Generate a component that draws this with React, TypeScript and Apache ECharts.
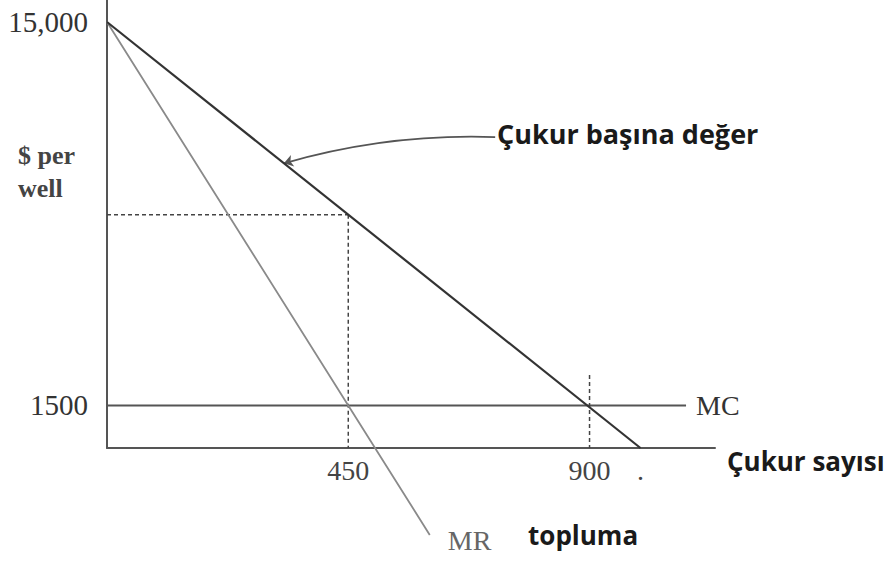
import React, { useEffect, useRef } from "react";
import * as echarts from "echarts";

// Axis ticks
const yTickValues = [1500, 15000];
const yTickLabels = ["1500", "15,000"];
const xTickValues = [450, 900, 995];
const xTickLabels = ["450", "900", "."];

// Demand curve ("Çukur başına değer")
const demandQ = [0, 995];
const demandP = [15000, 0];

// Marginal revenue (MR, topluma)
const mrQ = [0, 450, 602];
const mrP = [15000, 1500, -3060];

// Marginal cost (MC)
const mcQ = [0, 1080];
const mcP = [1500, 1500];

// Reference points
const optQ = 450;
const optP = 8216;
const compQ = 900;
const compTop = 2570;

// Annotation arrow (from label to demand line)
const arrowFrom = [724, 10950];
const arrowTo = [330, 10025];

const serif = "'Liberation Serif', 'DejaVu Serif', serif";
const sans = "'Open Sans', 'Noto Sans', sans-serif";

export default function App() {
  const ref = useRef<HTMLDivElement>(null);
  useEffect(() => {
    if (!ref.current) return;
    const chart = echarts.init(ref.current, undefined, { renderer: "svg" });
    const dash = { color: "#444", width: 1.5, type: [4, 3] as any };
    chart.setOption({
      animation: false,
      backgroundColor: "#ffffff",
      grid: { left: 107, top: 0, width: 608, height: 448 },
      xAxis: {
        type: "value",
        min: 0,
        max: 1134,
        axisLine: { show: true, onZero: false, lineStyle: { color: "#555", width: 2 } },
        axisTick: { show: false },
        splitLine: { show: false },
        axisLabel: {
          customValues: xTickValues,
          formatter: (v: number) => xTickLabels[xTickValues.indexOf(v)] ?? "",
          fontFamily: serif,
          fontSize: 28,
          color: "#444",
          margin: 8,
        },
      },
      yAxis: {
        type: "value",
        min: 0,
        max: 15775,
        axisLine: { show: true, onZero: false, lineStyle: { color: "#555", width: 2 } },
        axisTick: { show: false },
        splitLine: { show: false },
        axisLabel: {
          customValues: yTickValues,
          formatter: (v: number) => yTickLabels[yTickValues.indexOf(v)] ?? "",
          fontFamily: serif,
          fontSize: 29,
          color: "#333",
          margin: 19,
        },
      },
      series: [
        {
          type: "line",
          data: demandQ.map((q, i) => [q, demandP[i]]),
          showSymbol: false,
          lineStyle: { color: "#333", width: 2.2 },
          z: 5,
        },
        {
          type: "line",
          data: mrQ.map((q, i) => [q, mrP[i]]),
          showSymbol: false,
          clip: false,
          lineStyle: { color: "#8a8a8a", width: 1.8 },
          endLabel: {
            show: true,
            formatter: "MR",
            fontFamily: serif,
            fontSize: 28,
            color: "#666",
            offset: [10, 6],
          },
          z: 4,
        },
        {
          type: "line",
          data: mcQ.map((q, i) => [q, mcP[i]]),
          showSymbol: false,
          lineStyle: { color: "#555", width: 2 },
          endLabel: {
            show: true,
            formatter: "MC",
            fontFamily: serif,
            fontSize: 28,
            color: "#333",
            distance: 10,
          },
          z: 3,
        },
        {
          type: "line",
          data: [[0, optP], [optQ, optP]],
          showSymbol: false,
          lineStyle: dash,
        },
        {
          type: "line",
          data: [[optQ, optP], [optQ, 0]],
          showSymbol: false,
          lineStyle: dash,
        },
        {
          type: "line",
          data: [[compQ, compTop], [compQ, 0]],
          showSymbol: false,
          lineStyle: dash,
        },
        {
          type: "lines",
          coordinateSystem: "cartesian2d",
          symbol: ["none", "arrow"],
          symbolSize: 9,
          lineStyle: { color: "#555", width: 1.8, curveness: -0.08, opacity: 1 },
          data: [{ coords: [arrowFrom, arrowTo] }],
        },
      ],
      graphic: [
        {
          type: "text",
          left: 18,
          top: 139,
          style: {
            text: "$ per\nwell",
            font: `bold 26px ${serif}`,
            fill: "#444",
            lineHeight: 33,
          },
        },
        {
          type: "text",
          left: 497,
          top: 120,
          style: {
            text: "Çukur başına değer",
            font: `bold 27px ${sans}`,
            fill: "#1a1a1a",
          },
        },
        {
          type: "text",
          left: 727,
          top: 448,
          style: {
            text: "Çukur sayısı",
            font: `bold 26px ${sans}`,
            fill: "#1a1a1a",
          },
        },
        {
          type: "text",
          left: 528,
          top: 522,
          style: {
            text: "topluma",
            font: `bold 26px ${sans}`,
            fill: "#1a1a1a",
          },
        },
      ],
    });
    return () => chart.dispose();
  }, []);
  return (
    <div
      ref={ref}
      style={{ position: "absolute", left: 0, top: 0, width: 891, height: 566, background: "#fff" }}
    />
  );
}
